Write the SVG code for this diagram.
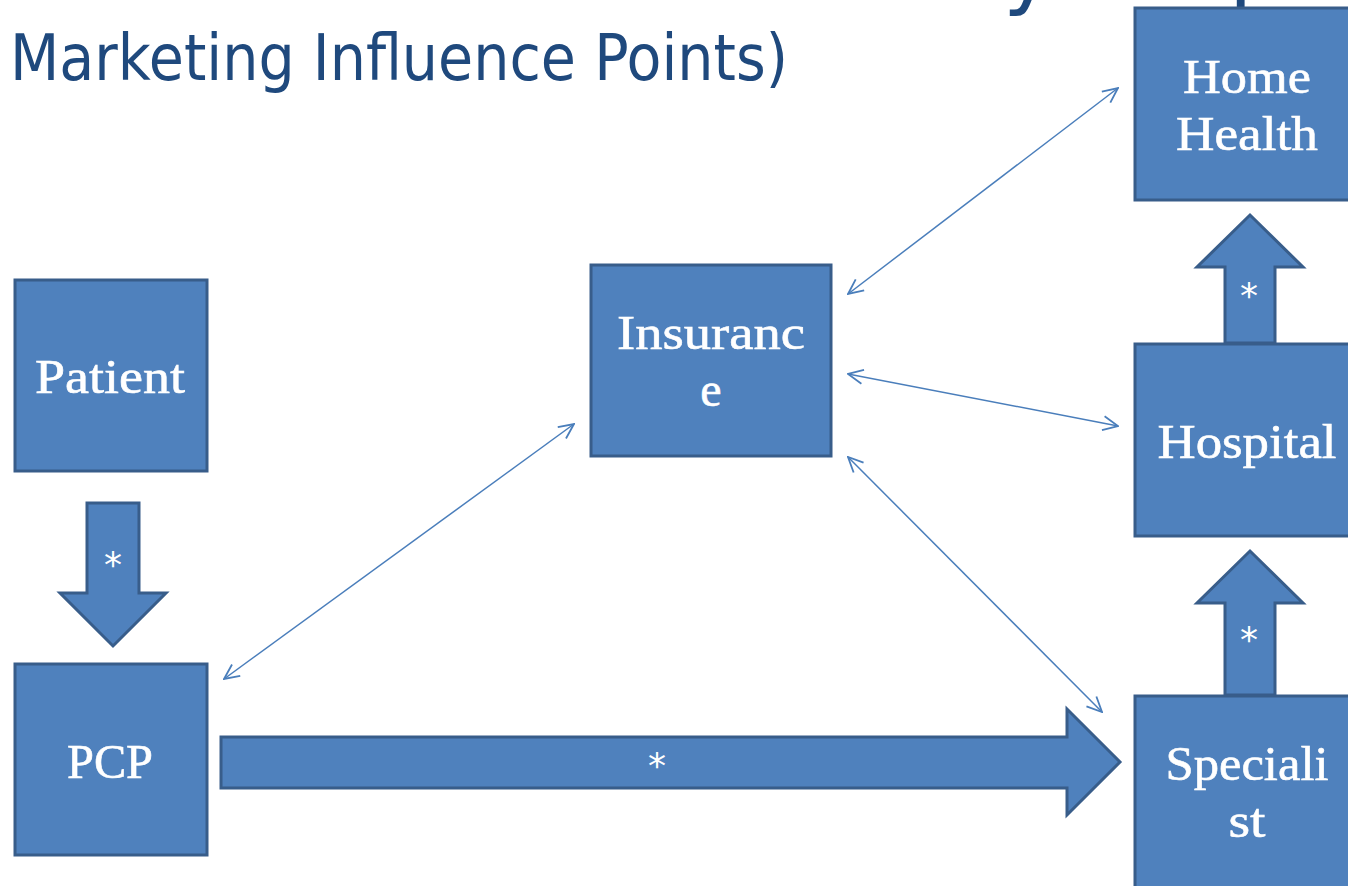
<svg xmlns="http://www.w3.org/2000/svg" width="1348" height="886" viewBox="0 0 1348 886">
<defs>
<style>
.box{fill:#4F81BD;stroke:#385D8A;stroke-width:3}
.blk{fill:#4F81BD;stroke:#385D8A;stroke-width:3;stroke-linejoin:miter}
.lbl{font-family:"Liberation Serif","DejaVu Serif",serif;font-size:48px;fill:#FFFFFF;stroke:#FFFFFF;stroke-width:0.6;text-anchor:middle}
.ast{font-family:"DejaVu Sans","Liberation Sans",sans-serif;font-size:36px;fill:#FFFFFF;text-anchor:middle}
.ttl{font-family:"DejaVu Sans","Liberation Sans",sans-serif;fill:#1F497D}
.thin{fill:none;stroke:#4A7EBB;stroke-width:1.5;marker-start:url(#v);marker-end:url(#v)}
</style>
<marker id="v" viewBox="0 0 18 18" refX="17" refY="9" markerWidth="18" markerHeight="18" markerUnits="userSpaceOnUse" orient="auto-start-reverse">
<path d="M2,2 L17,9 L2,16" fill="none" stroke="#4A7EBB" stroke-width="1.8"/>
</marker>
</defs>
<rect width="1348" height="886" fill="#FFFFFF"/>
<g id="title">
<text class="ttl" x="1003" y="-2" font-size="86">y</text>
<text class="ttl" x="1229" y="-2" font-size="86">p</text>
<text class="ttl" x="10" y="80" font-size="64" textLength="778" lengthAdjust="spacingAndGlyphs">Marketing Influence Points)</text>
</g>
<g id="connectors">
<line class="thin" x1="224" y1="679" x2="574" y2="424"/>
<line class="thin" x1="848" y1="294" x2="1118" y2="88"/>
<line class="thin" x1="848" y1="374" x2="1118" y2="426"/>
<line class="thin" x1="848" y1="457" x2="1102" y2="712"/>
<g id="arrow-patient-pcp">
<polygon class="blk" points="87,503 139,503 139,593 166,593 113,646 60,593 87,593"/>
<text class="ast" x="113" y="577">*</text>
</g>
<g id="arrow-pcp-specialist">
<polygon class="blk" points="221,737 1067,737 1067,709 1120,762 1067,815 1067,788 221,788"/>
<text class="ast" x="657" y="778">*</text>
</g>
<g id="arrow-hospital-homehealth">
<polygon class="blk" points="1225,343 1225,267 1197,267 1250,215 1303,267 1275,267 1275,343"/>
<text class="ast" x="1249" y="308">*</text>
</g>
<g id="arrow-specialist-hospital">
<polygon class="blk" points="1225,695 1225,603 1197,603 1250,551 1303,603 1275,603 1275,695"/>
<text class="ast" x="1249" y="652">*</text>
</g>
</g>
<g id="patient">
<rect class="box" x="15" y="280" width="192" height="191"/>
<text class="lbl" x="110" y="393" textLength="150" lengthAdjust="spacingAndGlyphs">Patient</text>
</g>
<g id="pcp">
<rect class="box" x="15" y="664" width="192" height="191"/>
<text class="lbl" x="110" y="778" textLength="86" lengthAdjust="spacingAndGlyphs">PCP</text>
</g>
<g id="insurance">
<rect class="box" x="591" y="265" width="240" height="191"/>
<text class="lbl" x="711" y="349" textLength="188" lengthAdjust="spacingAndGlyphs">Insuranc</text>
<text class="lbl" x="711" y="406">e</text>
</g>
<g id="homehealth">
<rect class="box" x="1135" y="8" width="230" height="192"/>
<text class="lbl" x="1247" y="93" textLength="128" lengthAdjust="spacingAndGlyphs">Home</text>
<text class="lbl" x="1247" y="150" textLength="142" lengthAdjust="spacingAndGlyphs">Health</text>
</g>
<g id="hospital">
<rect class="box" x="1135" y="344" width="230" height="192"/>
<text class="lbl" x="1247" y="458" textLength="179" lengthAdjust="spacingAndGlyphs">Hospital</text>
</g>
<g id="specialist">
<rect class="box" x="1135" y="696" width="230" height="200"/>
<text class="lbl" x="1247" y="780" textLength="163" lengthAdjust="spacingAndGlyphs">Speciali</text>
<text class="lbl" x="1247" y="837" textLength="37" lengthAdjust="spacingAndGlyphs">st</text>
</g>
</svg>
